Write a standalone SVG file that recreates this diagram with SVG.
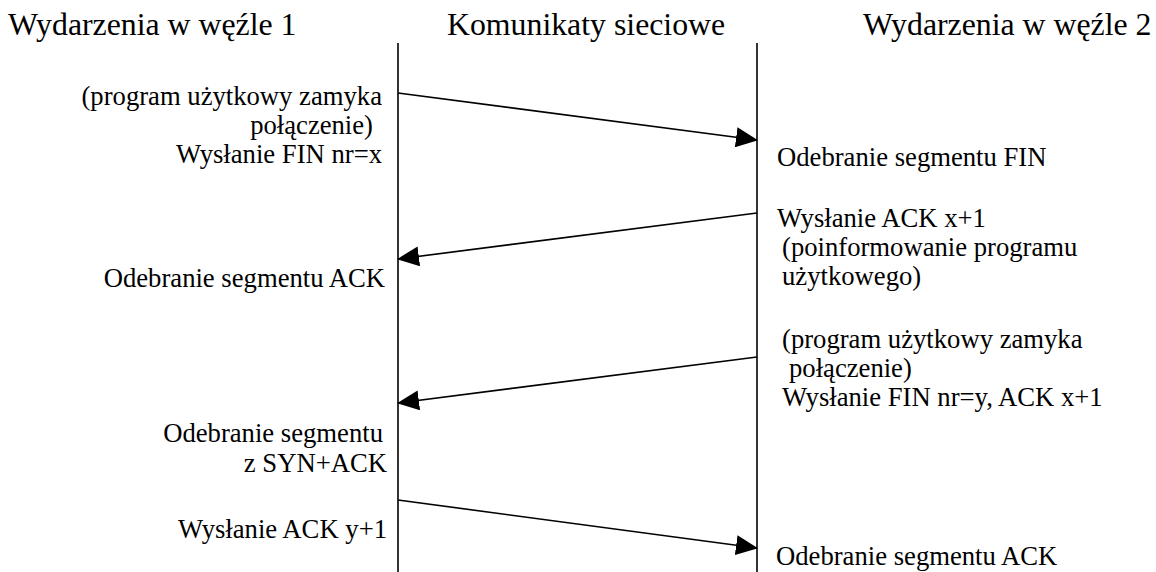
<svg xmlns="http://www.w3.org/2000/svg" width="1156" height="572" viewBox="0 0 1156 572">
<style>
  text { font-family: 'Liberation Serif', 'DejaVu Serif', serif; fill: #000; }
  .h { font-size: 31.8px; }
  .b { font-size: 26.67px; }
  .r { text-anchor: end; }
  .life { stroke: #000; stroke-width: 1.6; fill: none; }
  .msg { stroke: #000; stroke-width: 1.6; fill: none; marker-end: url(#ah); }
</style>
<defs>
  <marker id="ah" markerUnits="userSpaceOnUse" markerWidth="22" markerHeight="20" refX="21" refY="10" orient="auto" viewBox="0 0 22 20">
    <path d="M0,0 L22,10 L0,20 z" fill="#000"/>
  </marker>
</defs>
<rect width="1156" height="572" fill="#fff"/>
<g id="headers" font-family="Liberation Serif, DejaVu Serif, serif">
  <text class="h" x="8" y="35">Wydarzenia w węźle 1</text>
  <text class="h" x="447" y="35">Komunikaty sieciowe</text>
  <text class="h" x="863" y="35">Wydarzenia w węźle 2</text>
</g>
<g id="lifelines">
  <line class="life" x1="398" y1="43" x2="398" y2="572"/>
  <line class="life" x1="757" y1="43" x2="757" y2="572"/>
</g>
<g id="connectors">
  <line class="msg" x1="398" y1="93" x2="757" y2="140"/>
  <line class="msg" x1="757" y1="213" x2="398" y2="259"/>
  <line class="msg" x1="757" y1="357" x2="398" y2="403"/>
  <line class="msg" x1="398" y1="500" x2="757" y2="548"/>
</g>
<g id="node1-events" font-family="Liberation Serif, DejaVu Serif, serif">
  <text class="b r" x="382" y="105">(program użytkowy zamyka</text>
  <text class="b r" x="373" y="134">połączenie)</text>
  <text class="b r" x="382" y="163">Wysłanie FIN nr=x</text>
  <text class="b r" x="385" y="287">Odebranie segmentu ACK</text>
  <text class="b r" x="383" y="442">Odebranie segmentu</text>
  <text class="b r" x="387" y="472">z SYN+ACK</text>
  <text class="b r" x="387" y="538">Wysłanie ACK y+1</text>
</g>
<g id="node2-events" font-family="Liberation Serif, DejaVu Serif, serif">
  <text class="b" x="777" y="166">Odebranie segmentu FIN</text>
  <text class="b" x="777" y="227">Wysłanie ACK x+1</text>
  <text class="b" x="782" y="256">(poinformowanie programu</text>
  <text class="b" x="782" y="285">użytkowego)</text>
  <text class="b" x="782" y="348">(program użytkowy zamyka</text>
  <text class="b" x="789" y="377">połączenie)</text>
  <text class="b" x="782" y="406">Wysłanie FIN nr=y, ACK x+1</text>
  <text class="b" x="776" y="565">Odebranie segmentu ACK</text>
</g>
</svg>
